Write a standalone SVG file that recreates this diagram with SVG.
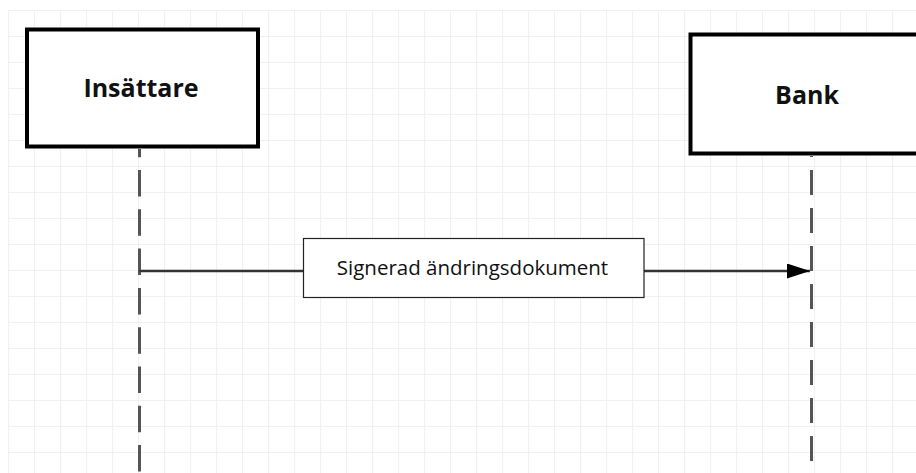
<svg xmlns="http://www.w3.org/2000/svg" width="916" height="473" viewBox="0 0 916 473">
<style>
.actor{fill:#fff;stroke:#000;stroke-width:4}
.actor-label{font-family:"Open Sans","Liberation Sans",sans-serif;font-weight:bold;font-size:25px;fill:#111;text-anchor:middle}
.lifeline{stroke:#555;stroke-width:3;fill:none}
.msg{stroke:#333;stroke-width:2.5;fill:none}
.msg-box{fill:#fff;stroke:#222;stroke-width:1.2}
.msg-label{font-family:"Open Sans","Liberation Sans",sans-serif;font-size:20.5px;fill:#111;text-anchor:middle}
</style>
<defs>
<pattern id="grid" x="8" y="10" width="26" height="26" patternUnits="userSpaceOnUse">
<path d="M0 0.5H26M0.5 0V26" stroke="#f1f1f1" stroke-width="1.2" fill="none"/>
</pattern>
<marker id="arrow" markerWidth="24" markerHeight="15" refX="23" refY="7.5" orient="auto" markerUnits="userSpaceOnUse">
<path d="M0 0L23 7.5L0 15Z" fill="#000"/>
</marker>
</defs>
<rect width="916" height="473" fill="#fff"/>
<rect x="8" y="10" width="908" height="463" fill="url(#grid)"/>
<g id="connectors">
<line id="lifeline-insattare" class="lifeline" x1="139.5" y1="149" x2="139.5" y2="473" stroke-dasharray="26.5 12.8" stroke-dashoffset="18.3"/>
<line id="lifeline-bank" class="lifeline" x1="811.5" y1="156" x2="811.5" y2="473" stroke-dasharray="25 13" stroke-dashoffset="24"/>
<line id="msg-signerad" class="msg" x1="139.5" y1="271" x2="810" y2="271" marker-end="url(#arrow)"/>
</g>
<g id="node-insattare">
<rect class="actor" x="27" y="29.5" width="231" height="117"/>
<text class="actor-label" x="141" y="97">Insättare</text>
</g>
<g id="node-bank">
<rect class="actor" x="690.5" y="34.5" width="233" height="119"/>
<text class="actor-label" x="807" y="104">Bank</text>
</g>
<g id="label-signerad">
<rect class="msg-box" x="303.5" y="238.5" width="340.5" height="59"/>
<text class="msg-label" x="472.5" y="275">Signerad ändringsdokument</text>
</g>
</svg>
